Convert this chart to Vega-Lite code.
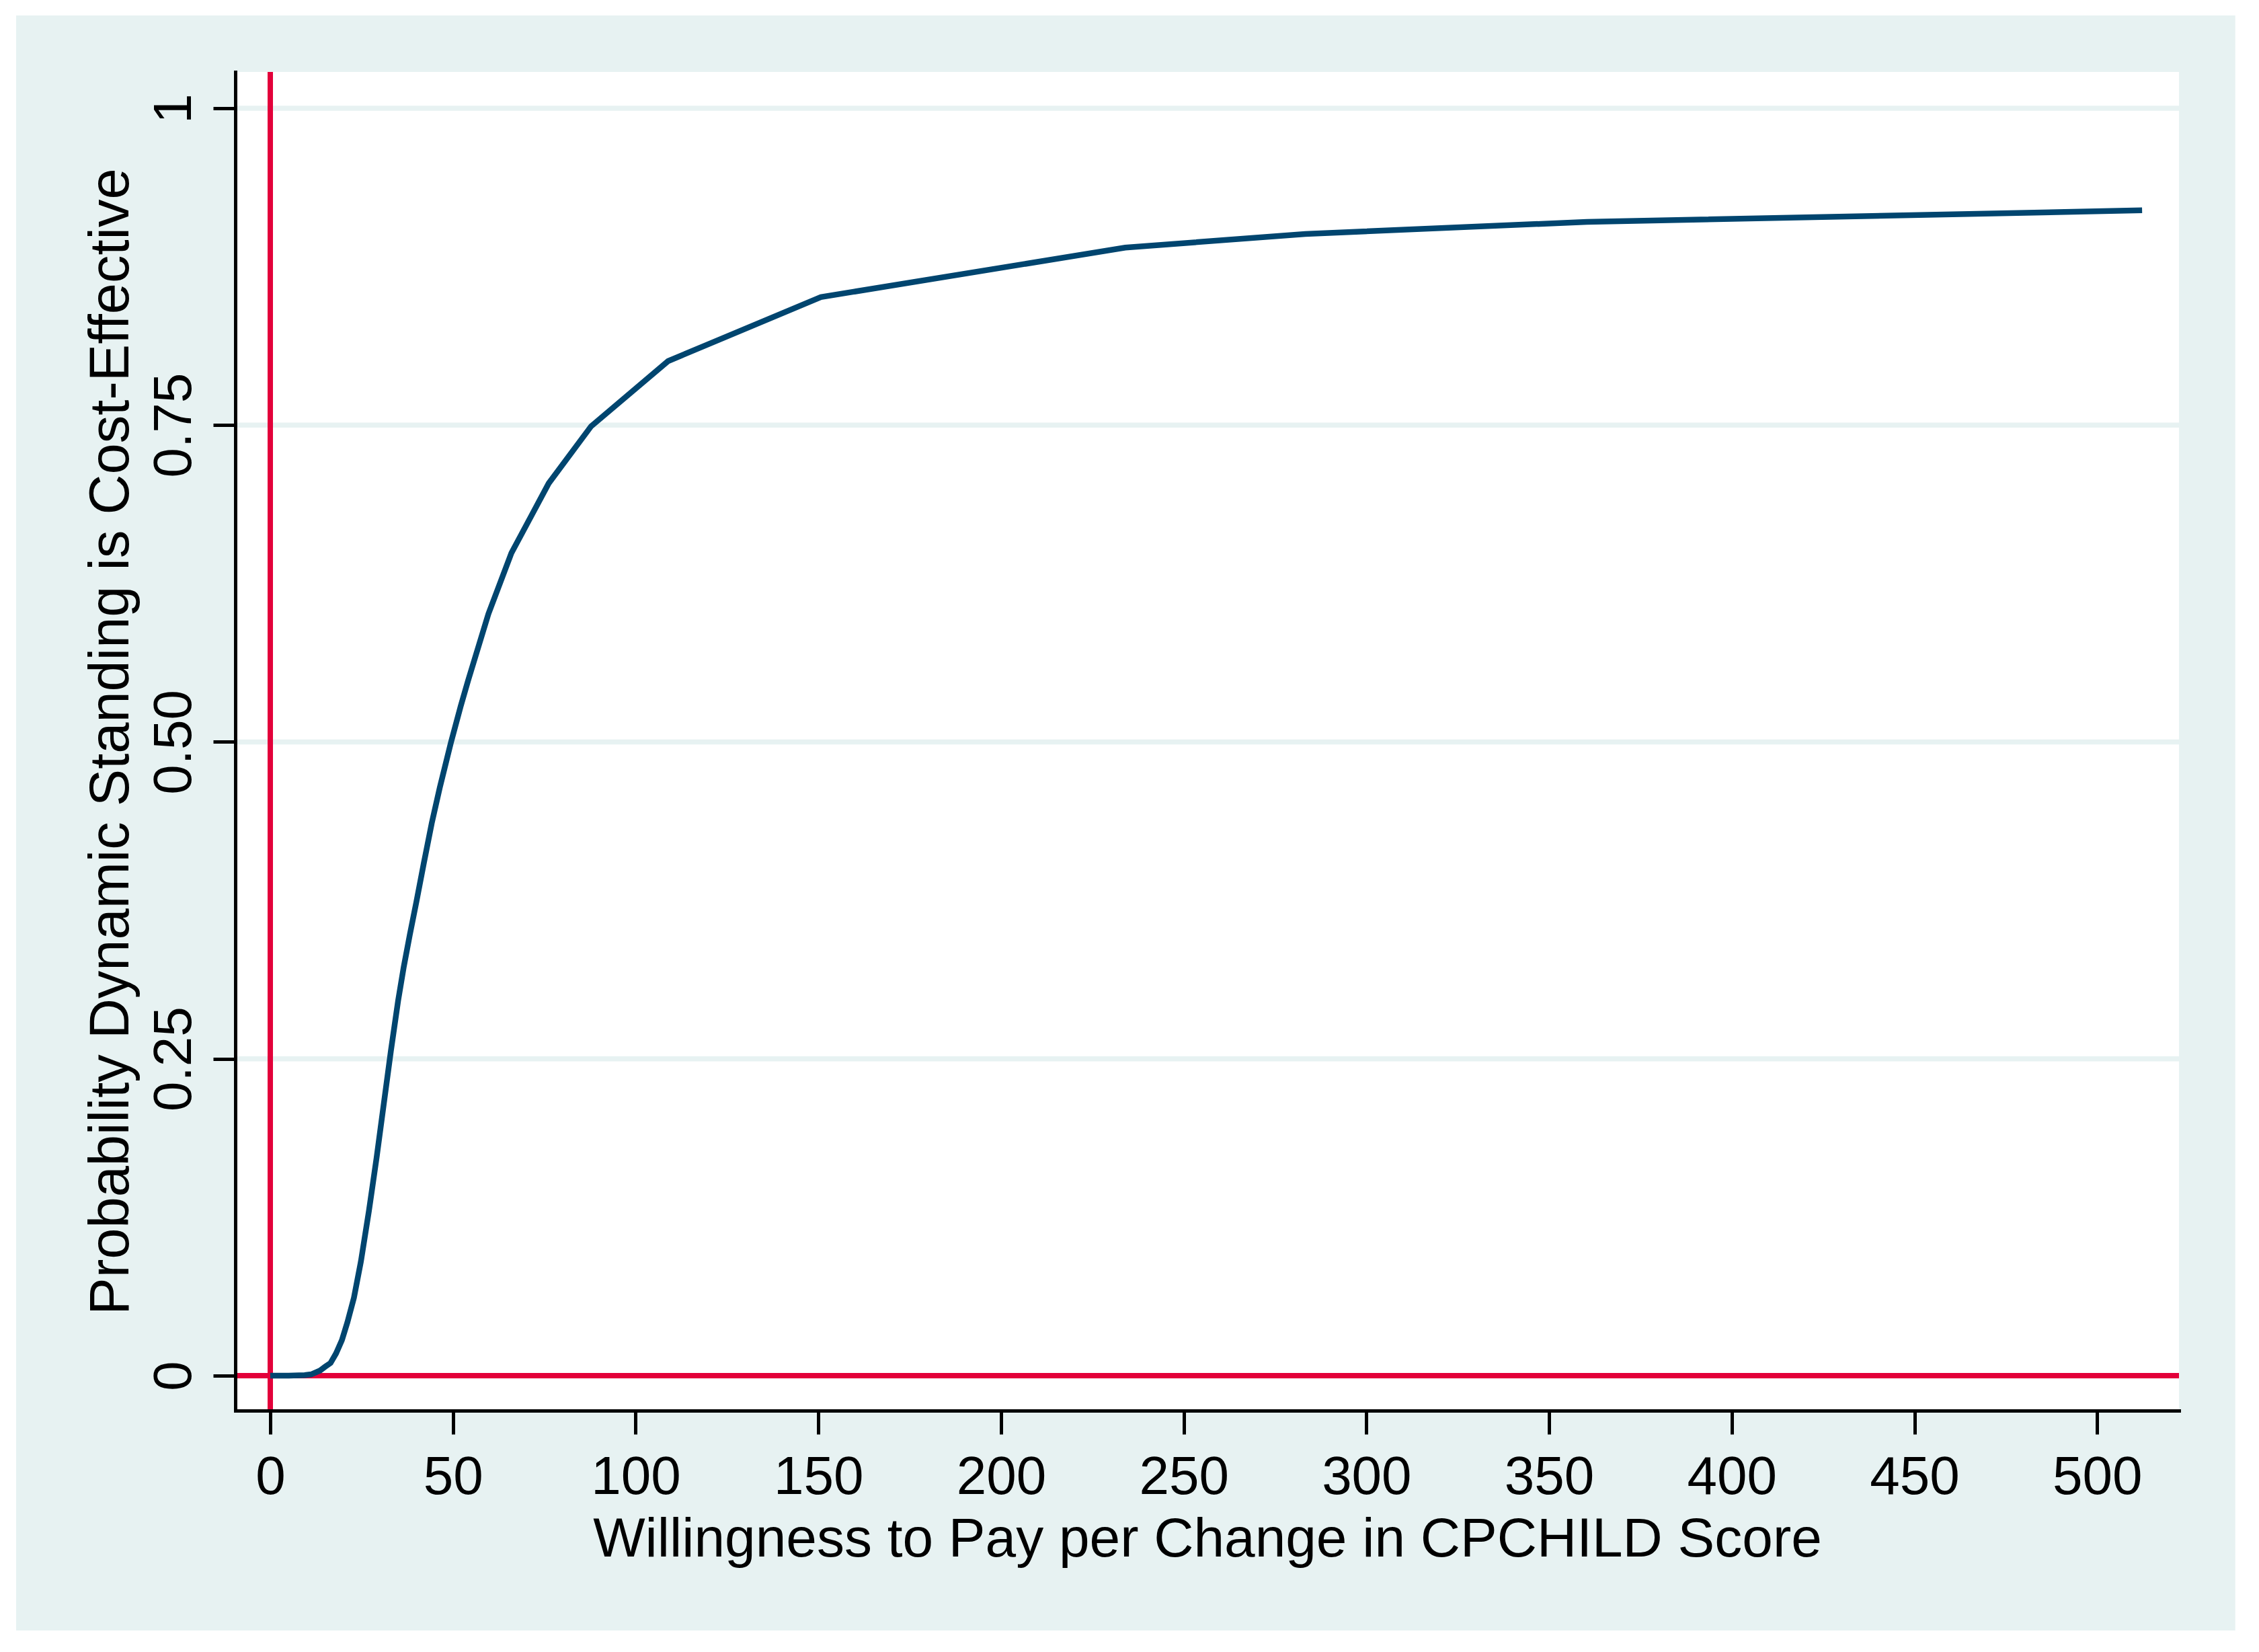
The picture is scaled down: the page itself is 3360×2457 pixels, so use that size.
{
  "$schema": "https://vega.github.io/schema/vega-lite/v6.json",
  "width": 2891,
  "height": 1991,
  "autosize": {"type": "none"},
  "padding": {"left": 350, "top": 107, "right": 119, "bottom": 359},
  "background": "white",
  "config": {
    "view": {"stroke": null},
    "axis": {"zindex": 1}
  },
  "datasets": {
    "curve": [
      {"wtp": 0, "prob": 0},
      {"wtp": 5, "prob": 0},
      {"wtp": 9.4, "prob": 0.0004},
      {"wtp": 11.2, "prob": 0.001},
      {"wtp": 13.6, "prob": 0.004},
      {"wtp": 15, "prob": 0.007},
      {"wtp": 16.5, "prob": 0.01},
      {"wtp": 18.0, "prob": 0.0175},
      {"wtp": 19.6, "prob": 0.028},
      {"wtp": 21.1, "prob": 0.042},
      {"wtp": 22.9, "prob": 0.0615},
      {"wtp": 24.8, "prob": 0.09},
      {"wtp": 27.0, "prob": 0.13},
      {"wtp": 29.1, "prob": 0.172},
      {"wtp": 31.0, "prob": 0.213},
      {"wtp": 33.0, "prob": 0.256},
      {"wtp": 35.0, "prob": 0.296},
      {"wtp": 36.5, "prob": 0.322},
      {"wtp": 38.2, "prob": 0.348},
      {"wtp": 40.0, "prob": 0.374},
      {"wtp": 42.0, "prob": 0.404},
      {"wtp": 44.2, "prob": 0.436},
      {"wtp": 46.4, "prob": 0.464},
      {"wtp": 49.4, "prob": 0.499},
      {"wtp": 52.1, "prob": 0.528},
      {"wtp": 54.2, "prob": 0.549},
      {"wtp": 59.7, "prob": 0.601},
      {"wtp": 66.0, "prob": 0.649},
      {"wtp": 76.2, "prob": 0.704},
      {"wtp": 87.8, "prob": 0.749},
      {"wtp": 108.9, "prob": 0.8005},
      {"wtp": 150.7, "prob": 0.851},
      {"wtp": 234.0, "prob": 0.89},
      {"wtp": 283.3, "prob": 0.9008},
      {"wtp": 360.4, "prob": 0.9103},
      {"wtp": 512.3, "prob": 0.9194}
    ],
    "grid": [
      {"level": 0.25},
      {"level": 0.5},
      {"level": 0.75},
      {"level": 1}
    ],
    "one": [{"k": 1}]
  },
  "layer": [
    {
      "data": {"name": "one"},
      "mark": {"type": "rect", "color": "#e7f2f2", "clip": false},
      "encoding": {
        "x": {"datum": -69.55, "type": "quantitative", "scale": {"domain": [-9.57, 522.4], "nice": false, "zero": false}},
        "x2": {"datum": 537.8},
        "y": {"datum": -0.2011, "type": "quantitative", "scale": {"domain": [-0.0276, 1.0286], "nice": false, "zero": false}},
        "y2": {"datum": 1.0732}
      }
    },
    {
      "data": {"name": "one"},
      "mark": {"type": "rect", "color": "white"},
      "encoding": {}
    },
    {
      "data": {"name": "grid"},
      "mark": {"type": "rule", "color": "#e7f2f2", "strokeWidth": 7.5},
      "encoding": {
        "y": {"field": "level", "type": "quantitative", "scale": {"domain": [-0.0276, 1.0286], "nice": false, "zero": false}}
      }
    },
    {
      "data": {"name": "one"},
      "mark": {"type": "rule", "color": "#e3003a", "strokeWidth": 8},
      "encoding": {
        "y": {"datum": 0, "type": "quantitative", "scale": {"domain": [-0.0276, 1.0286], "nice": false, "zero": false}}
      }
    },
    {
      "data": {"name": "one"},
      "mark": {"type": "rule", "color": "#e3003a", "strokeWidth": 8},
      "encoding": {
        "x": {"datum": 0, "type": "quantitative", "scale": {"domain": [-9.57, 522.4], "nice": false, "zero": false}}
      }
    },
    {
      "data": {"name": "curve"},
      "mark": {"type": "line", "color": "#00456f", "strokeWidth": 8.5, "clip": true},
      "encoding": {
        "x": {
          "field": "wtp",
          "type": "quantitative",
          "scale": {"domain": [-9.57, 522.4], "nice": false, "zero": false},
          "axis": {
            "values": [0, 50, 100, 150, 200, 250, 300, 350, 400, 450, 500],
            "grid": false,
            "domain": true,
            "domainColor": "black",
            "domainWidth": 5,
            "domainCap": "square",
            "ticks": true,
            "tickColor": "black",
            "tickWidth": 5,
            "tickSize": 35,
            "labelFont": "Liberation Sans",
            "labelFontSize": 80,
            "labelColor": "black",
            "labelBaseline": "alphabetic",
            "labelPadding": 88,
            "labelFlush": false,
            "labelOverlap": false,
            "title": "Willingness to Pay per Change in CPCHILD Score",
            "titleFont": "Liberation Sans",
            "titleFontSize": 82,
            "titleFontWeight": "normal",
            "titleColor": "black",
            "titleBaseline": "alphabetic",
            "titleY": 216,
            "zindex": 1
          }
        },
        "y": {
          "field": "prob",
          "type": "quantitative",
          "scale": {"domain": [-0.0276, 1.0286], "nice": false, "zero": false},
          "axis": {
            "values": [0, 0.25, 0.5, 0.75, 1],
            "labelExpr": "datum.value == 0 ? '0' : (datum.value == 1 ? '1' : format(datum.value, '.2f'))",
            "grid": false,
            "domain": true,
            "domainColor": "black",
            "domainWidth": 5,
            "domainCap": "square",
            "ticks": true,
            "tickColor": "black",
            "tickWidth": 5,
            "tickSize": 33,
            "labelFont": "Liberation Sans",
            "labelFontSize": 80,
            "labelColor": "black",
            "labelAngle": 270,
            "labelAlign": "center",
            "labelBaseline": "alphabetic",
            "labelPadding": 34,
            "labelFlush": false,
            "labelOverlap": false,
            "title": "Probability Dynamic Standing is Cost-Effective",
            "titleFont": "Liberation Sans",
            "titleFontSize": 83,
            "titleFontWeight": "normal",
            "titleColor": "black",
            "titleAngle": 270,
            "titleAlign": "center",
            "titleBaseline": "alphabetic",
            "titleX": -160,
            "zindex": 1
          }
        }
      }
    }
  ]
}
